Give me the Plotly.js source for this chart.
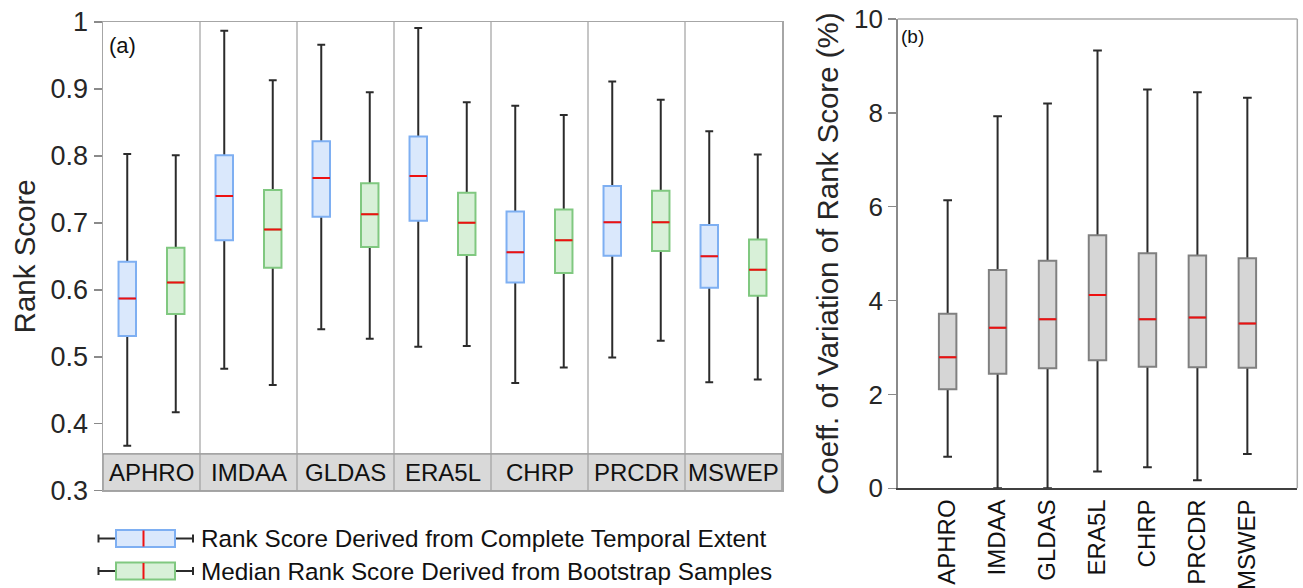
<!DOCTYPE html>
<html>
<head>
<meta charset="utf-8">
<script src="https://cdn.plot.ly/plotly-3.0.1.min.js"></script>
<style>html,body{margin:0;padding:0;background:#fff;}#chart{width:1303px;height:588px;}</style>
</head>
<body>
<div id="chart"></div>
<script>
// ---- Data ----
const categories = ['APHRO','IMDAA','GLDAS','ERA5L','CHRP','PRCDR','MSWEP'];

// (a) Rank score from complete temporal extent (blue)
const fullUpper  = [0.803, 0.987, 0.966, 0.991, 0.875, 0.911, 0.837];
const fullQ3     = [0.642, 0.801, 0.822, 0.829, 0.717, 0.755, 0.697];
const fullMedian = [0.587, 0.740, 0.767, 0.770, 0.656, 0.701, 0.650];
const fullQ1     = [0.531, 0.674, 0.709, 0.703, 0.611, 0.651, 0.603];
const fullLower  = [0.367, 0.482, 0.541, 0.515, 0.461, 0.499, 0.462];

// (a) Median rank score from bootstrap samples (green)
const bootUpper  = [0.801, 0.913, 0.895, 0.880, 0.861, 0.884, 0.802];
const bootQ3     = [0.663, 0.749, 0.759, 0.745, 0.720, 0.748, 0.675];
const bootMedian = [0.611, 0.690, 0.713, 0.700, 0.674, 0.701, 0.630];
const bootQ1     = [0.564, 0.633, 0.664, 0.652, 0.625, 0.658, 0.591];
const bootLower  = [0.417, 0.458, 0.527, 0.516, 0.484, 0.524, 0.466];

// (b) Coefficient of variation of rank score (%)
const cvUpper  = [6.14, 7.93, 8.20, 9.33, 8.50, 8.44, 8.32];
const cvQ3     = [3.72, 4.65, 4.85, 5.39, 5.01, 4.96, 4.90];
const cvMedian = [2.79, 3.42, 3.60, 4.12, 3.60, 3.64, 3.51];
const cvQ1     = [2.11, 2.44, 2.56, 2.73, 2.59, 2.58, 2.57];
const cvLower  = [0.67, 0.00, 0.00, 0.36, 0.45, 0.17, 0.73];

const legendLabels = ['Rank Score Derived from Complete Temporal Extent',
                      'Median Rank Score Derived from Bootstrap Samples'];
const panelLabels = ['(a)', '(b)'];
const yTitleA = 'Rank Score';
const yTitleB = 'Coeff. of Variation of Rank Score (%)';

// ---- Styling ----
const FONT = 'Liberation Sans, Arial, Helvetica, sans-serif';
const W = 1303, H = 588;
const px = v => v / W;
const py = v => 1 - v / H;
const BLUE_FILL = '#dae8fc', BLUE_EDGE = '#7eaff2';
const GREEN_FILL = '#d8f0d8', GREEN_EDGE = '#80c880';
const GRAY_FILL = '#d6d6d6', GRAY_EDGE = '#808080';
const WHISK = '#2b2b2b', MED = '#ee1111';
const stripTop = 0.355;

function layered(xa, ya, pos, q1, med, q3, lo, hi, width, fill, edge, ww) {
  const base = {type:'box', xaxis:xa, yaxis:ya, x:pos, width:width, whiskerwidth:ww,
                boxpoints:false, showlegend:false, hoverinfo:'skip'};
  return [
    Object.assign({}, base, {q1:med, median:med, q3:med, lowerfence:lo, upperfence:hi,
      line:{color:WHISK, width:2}, fillcolor:'rgba(0,0,0,0)'}),
    Object.assign({}, base, {q1:q1, median:med, q3:q3, lowerfence:q1, upperfence:q3,
      line:{color:edge, width:2}, fillcolor:fill}),
    Object.assign({}, base, {q1:med, median:med, q3:med, lowerfence:med, upperfence:med,
      line:{color:MED, width:2}, fillcolor:'rgba(0,0,0,0)', whiskerwidth:0})
  ];
}

const idx = categories.map((c, i) => i);
const posBlue = idx.map(i => i - 0.25);
const posGreen = idx.map(i => i + 0.25);

let data = [];
data = data.concat(layered('x','y', posBlue, fullQ1, fullMedian, fullQ3, fullLower, fullUpper, 0.18, BLUE_FILL, BLUE_EDGE, 0.45));
data = data.concat(layered('x','y', posGreen, bootQ1, bootMedian, bootQ3, bootLower, bootUpper, 0.18, GREEN_FILL, GREEN_EDGE, 0.45));
data = data.concat(layered('x2','y2', idx, cvQ1, cvMedian, cvQ3, cvLower, cvUpper, 0.35, GRAY_FILL, GRAY_EDGE, 0.5));

// ---- Shapes ----
const shapes = [];
shapes.push({type:'rect', xref:'x', yref:'y', x0:-0.5, x1:categories.length - 0.5, y0:0.3, y1:stripTop,
  fillcolor:'#d9d9d9', line:{color:'#8a8a8a', width:1.2}, layer:'below'});
for (let i = 0; i < categories.length - 1; i++) {
  shapes.push({type:'line', xref:'x', yref:'y', x0:i + 0.5, x1:i + 0.5, y0:0.3, y1:1,
    line:{color:'#a0a0a0', width:1.2}, layer:'below'});
}
shapes.push({type:'line', xref:'x2 domain', yref:'y2 domain', x0:0, x1:1, y0:1, y1:1, line:{color:'#ababab', width:1.5}});
shapes.push({type:'line', xref:'x2 domain', yref:'y2 domain', x0:1, x1:1, y0:0, y1:1, line:{color:'#ababab', width:1.5}});

// legend glyphs
const legendRows = [538.5, 571];
const legendStyles = [[BLUE_FILL, BLUE_EDGE], [GREEN_FILL, GREEN_EDGE]];
legendRows.forEach((yc, k) => {
  const [fill, edge] = legendStyles[k];
  shapes.push({type:'line', xref:'paper', yref:'paper', x0:px(98.5), x1:px(116), y0:py(yc), y1:py(yc), line:{color:WHISK, width:2}});
  shapes.push({type:'line', xref:'paper', yref:'paper', x0:px(98.5), x1:px(98.5), y0:py(yc-4), y1:py(yc+4), line:{color:WHISK, width:2}});
  shapes.push({type:'line', xref:'paper', yref:'paper', x0:px(175), x1:px(193), y0:py(yc), y1:py(yc), line:{color:WHISK, width:2}});
  shapes.push({type:'line', xref:'paper', yref:'paper', x0:px(193), x1:px(193), y0:py(yc-4), y1:py(yc+4), line:{color:WHISK, width:2}});
  shapes.push({type:'rect', xref:'paper', yref:'paper', x0:px(116), x1:px(175), y0:py(yc+8.5), y1:py(yc-8.5), fillcolor:fill, line:{color:edge, width:2}});
  shapes.push({type:'line', xref:'paper', yref:'paper', x0:px(143.5), x1:px(143.5), y0:py(yc+8), y1:py(yc-8), line:{color:MED, width:2}});
});

// ---- Annotations ----
const annotations = [];
categories.forEach((c, i) => {
  annotations.push({xref:'x', yref:'y', x:i, y:(0.3 + stripTop) / 2, text:c, showarrow:false,
    font:{family:FONT, size:24, color:'#111'}, xanchor:'center', yanchor:'middle'});
});
annotations.push({xref:'x domain', yref:'y domain', x:0.006, y:0.98, text:panelLabels[0], showarrow:false,
  font:{family:FONT, size:22, color:'#111'}, xanchor:'left', yanchor:'top'});
annotations.push({xref:'x2 domain', yref:'y2 domain', x:0.004, y:0.99, text:panelLabels[1], showarrow:false,
  font:{family:FONT, size:19, color:'#111'}, xanchor:'left', yanchor:'top'});
legendLabels.forEach((t, k) => {
  annotations.push({xref:'paper', yref:'paper', x:px(199), y:py(legendRows[k]), text:t, showarrow:false,
    font:{family:FONT, size:24.3, color:'#111'}, xanchor:'left', yanchor:'middle'});
});

const layout = {
  width: W, height: H,
  margin: {l:0, r:0, t:0, b:0},
  paper_bgcolor:'#fff', plot_bgcolor:'#fff',
  showlegend:false,
  boxmode:'overlay',
  font:{family:FONT},
  xaxis: {domain:[px(103), px(782)], range:[-0.5, categories.length - 0.5], showticklabels:false, ticks:'',
    showgrid:false, zeroline:false, showline:true, mirror:true, linecolor:'#a6a6a6', linewidth:1.5, fixedrange:true},
  yaxis: {domain:[py(490.7), py(22)], range:[0.3, 1.0], dtick:0.1, tick0:0.3, ticks:'outside', ticklen:8, tickwidth:1.5,
    tickcolor:'#8a8a8a', showgrid:false, zeroline:false, showline:true, mirror:true, linecolor:'#a6a6a6', linewidth:1.5,
    tickfont:{family:FONT, size:27, color:'#262626'},
    title:{text:yTitleA, font:{family:FONT, size:29.5, color:'#262626'}, standoff:6}},
  xaxis2: {anchor:'y2', domain:[px(897.7), px(1297.3)], range:[-1, categories.length], tickvals:idx, ticktext:categories,
    tickangle:-90, ticks:'', showgrid:false, zeroline:false, showline:true, linecolor:'#404040', linewidth:1.5,
    tickfont:{family:FONT, size:24, color:'#111'}},
  yaxis2: {anchor:'x2', domain:[py(488.3), py(19)], range:[0, 10], dtick:2, ticks:'outside', ticklen:8, tickwidth:1.5,
    tickcolor:'#8a8a8a', showgrid:false, zeroline:false, showline:true, linecolor:'#8a8a8a', linewidth:1.5,
    tickfont:{family:FONT, size:26, color:'#262626'},
    title:{text:yTitleB, font:{family:FONT, size:29.5, color:'#262626'}, standoff:6}},
  shapes: shapes,
  annotations: annotations
};

Plotly.newPlot('chart', data, layout, {staticPlot:true, displayModeBar:false});
</script>
</body>
</html>
